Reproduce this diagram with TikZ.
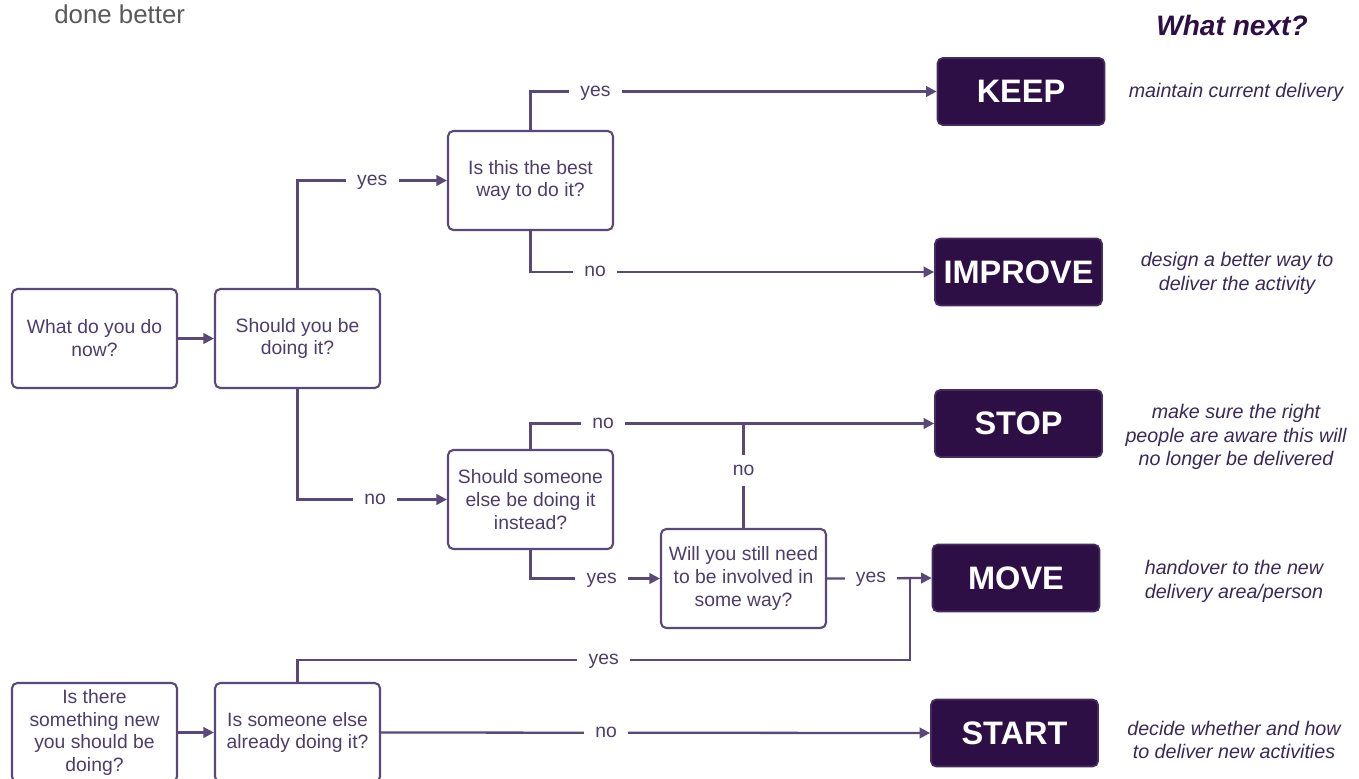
\documentclass[tikz,border=0pt]{standalone}
\usepackage{fontspec}
\setmainfont{Liberation Sans}
\usepackage{xcolor}
\usetikzlibrary{arrows.meta,shapes,calc}
\definecolor{linecol}{HTML}{5A4878}
\definecolor{txtcol}{HTML}{4E3D6C}
\definecolor{darkcol}{HTML}{2D0F45}
\definecolor{desccol}{HTML}{3A2858}

\begin{document}
\begin{tikzpicture}[x=0.02cm,y=-0.02cm]
    \tikzset{question/.style = {shape=rectangle,rounded corners=3pt,draw=linecol,line width=1.2pt,fill=white,text=txtcol,align=center,minimum width=3.3cm,minimum height=1.98cm,font=\fontsize{11}{13}\selectfont}}
    \tikzset{answer/.style = {shape=rectangle,rounded corners=3pt,draw=linecol!50!darkcol,line width=1pt,fill=darkcol,text=white,minimum width=3.34cm,minimum height=1.34cm,font=\fontsize{18.5}{20}\selectfont\bfseries}}
    \tikzset{note/.style = {text=desccol,align=center,font=\fontsize{11.2}{13.6}\selectfont\itshape}}
    \tikzset{edge/.style = {draw=linecol,line width=1.3pt,-{Triangle[length=6pt,width=6pt]}}}
    \tikzset{link/.style = {draw=linecol,line width=1.3pt}}
    \tikzset{lbl/.style = {fill=white,text=txtcol,inner xsep=6.5pt,inner ysep=3pt,text height=1ex,text depth=0pt,font=\fontsize{11}{13}\selectfont}}

    \useasboundingbox (0,0) rectangle (1359,778);

    % headings
    \node[anchor=base west,inner sep=0pt,text=black!65,font=\fontsize{14.7}{16}\selectfont] (done) at (54,23) {done better};
    \node[anchor=base,text=darkcol,font=\fontsize{16}{18}\selectfont\bfseries\itshape] (next) at (1232,35) {What next?};

    % questions
    \node[question] (now) at (94.5,338.5) {What do you do\\now?};
    \node[question] (should) at (297.5,338.5) {Should you be\\doing it?};
    \node[question] (best) at (530.5,180.5) {Is this the best\\way to do it?};
    \node[question] (else) at (530.5,499.5) {Should someone\\else be doing it\\instead?};
    \node[question] (involved) at (743.5,578.5) {Will you still need\\to be involved in\\some way?};
    \node[question] (new) at (94.5,732.5) {Is there\\something new\\you should be\\doing?};
    \node[question] (already) at (297.5,732.5) {Is someone else\\already doing it?};

    % outcomes
    \foreach \name/\x/\y/\txt in {keep/1021/91.5/KEEP,improve/1018.5/272/IMPROVE,stop/1018.5/423.5/STOP,move/1016/578/MOVE,start/1014.5/733/START}
    {
      \node[answer] (\name) at (\x,\y) {\txt};
    }

    % what next
    \node[note] (keepnote) at (1236,92) {maintain current delivery};
    \node[note] (improvenote) at (1237,273) {design a better way to\\deliver the activity};
    \node[note] (stopnote) at (1236,437) {make sure the right\\people are aware this will\\no longer be delivered};
    \node[note] (movenote) at (1234,581) {handover to the new\\delivery area/person};
    \node[note] (startnote) at (1234,740) {decide whether and how\\to deliver new activities};

    % connectors
    \draw[edge] (now) -- (should);
    \draw[edge] (new) -- (already);
    \draw[edge] (should.north) |- node[lbl,pos=0.75] {yes} (best.west);
    \draw[edge] (should.south) |- node[lbl,pos=0.76] {no} (else.west);
    \draw[edge] (best.north) |- node[lbl,pos=0.58] {yes} (keep.west);
    \draw[edge] (best.south) |- node[lbl,pos=0.58] {no} (improve.west);
    \draw[edge] (else.north) |- node[lbl,pos=0.59] {no} (stop.west);
    \draw[edge] (else.south) |- node[lbl,pos=0.775] {yes} (involved.west);
    \draw[link] (involved.north) -- node[lbl,pos=0.55,inner xsep=2pt,inner ysep=6pt] {no} (involved.north |- stop.west);
    \draw[edge] (involved.east) -- node[lbl,pos=0.42] {yes} (move.west);
    \coordinate (join) at (910,660);
    \draw[link] (already.north) |- node[lbl,pos=0.75] {yes} (join) -- (join |- move.west);
    \draw[edge] (already.east) -- node[lbl,pos=0.41] {no} (start.west);

\end{tikzpicture}
\end{document}
